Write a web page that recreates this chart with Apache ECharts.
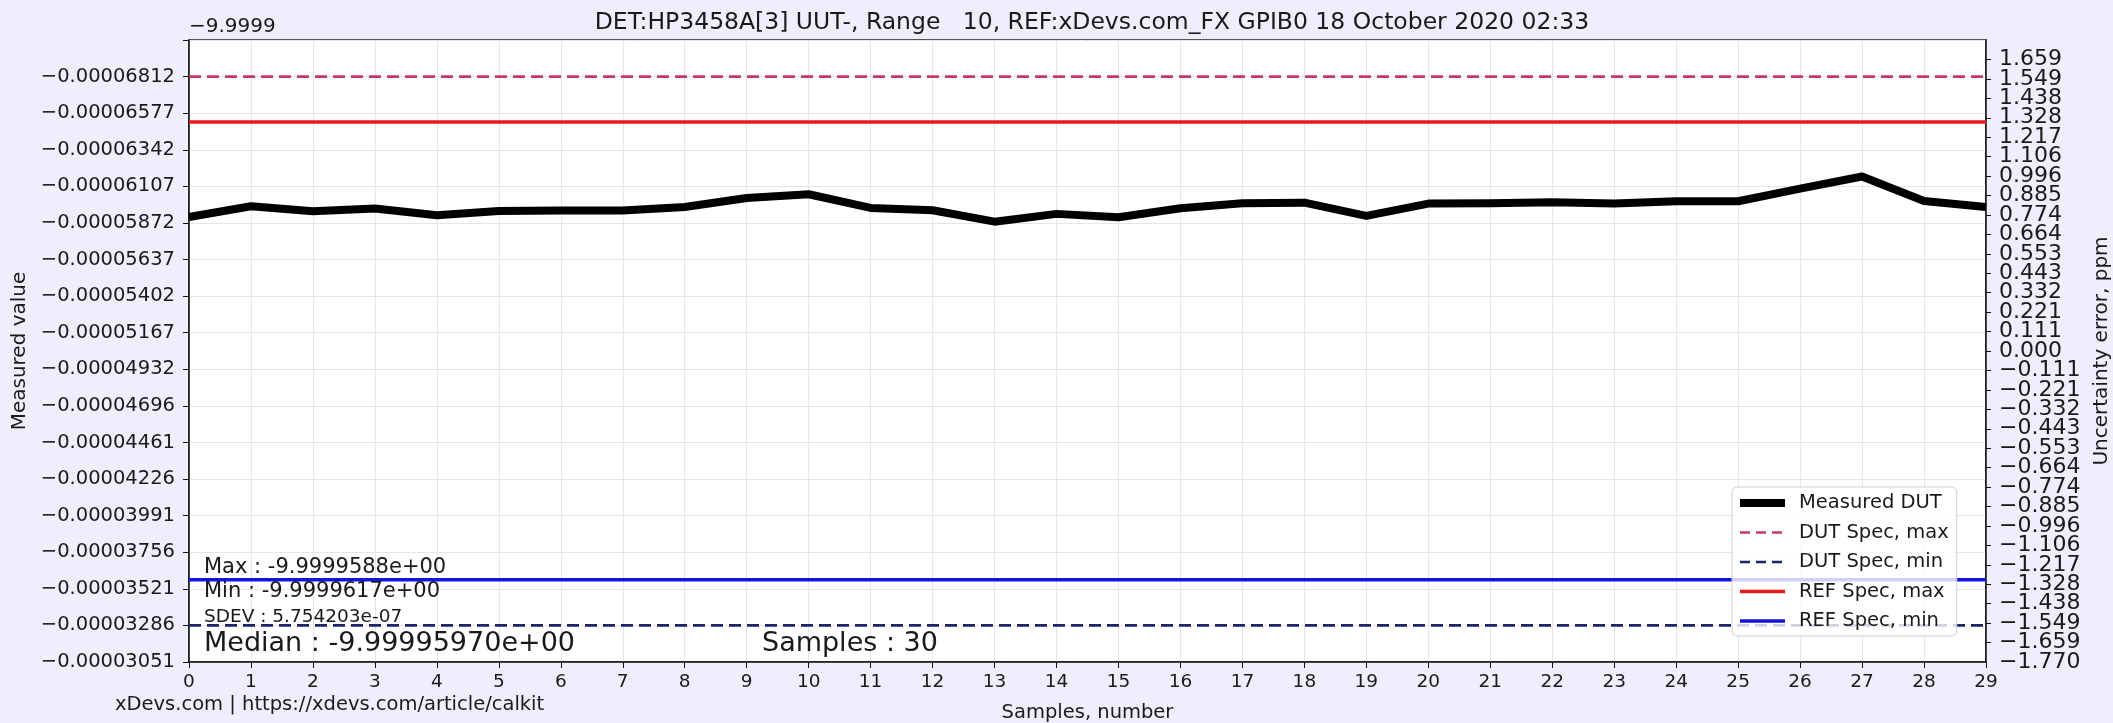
<!DOCTYPE html>
<html>
<head>
<meta charset="utf-8">
<script src="https://cdn.jsdelivr.net/npm/echarts@6/dist/echarts.min.js"></script>
<style>
html,body{margin:0;padding:0;background:#eeeefc;}
#chart{width:2113px;height:723px;}
</style>
</head>
<body>
<div id="chart"></div>
<script>
// ---------------- data ----------------
const titleText = 'DET:HP3458A[3] UUT-, Range   10, REF:xDevs.com_FX GPIB0 18 October 2020 02:33';
const offsetValue = -9.9999;           // matplotlib offset shown above the left axis
const offsetLabel = '\u22129.9999';
const samples = [0,1,2,3,4,5,6,7,8,9,10,11,12,13,14,15,16,17,18,19,20,21,22,23,24,25,26,27,28,29];
const measuredValues = [
  -9.99995910, -9.99995979, -9.99995947, -9.99995964, -9.99995921,
  -9.99995949, -9.99995951, -9.99995951, -9.99995974, -9.99996032,
  -9.99996056, -9.99995968, -9.99995953, -9.99995880, -9.99995930,
  -9.99995908, -9.99995966, -9.99995998, -9.99996002, -9.99995917,
  -9.99995996, -9.99995998, -9.99996004, -9.99995996, -9.99996011,
  -9.99996011, -9.99996092, -9.99996170, -9.99996013, -9.99995974
];
const dutSpecMax = -9.99996812;
const dutSpecMin = -9.99993286;
const refSpecMax = -9.99996520;
const refSpecMin = -9.99993580;
const leftTickLabels = ['\u22120.00006812','\u22120.00006577','\u22120.00006342','\u22120.00006107','\u22120.00005872',
  '\u22120.00005637','\u22120.00005402','\u22120.00005167','\u22120.00004932','\u22120.00004696','\u22120.00004461',
  '\u22120.00004226','\u22120.00003991','\u22120.00003756','\u22120.00003521','\u22120.00003286','\u22120.00003051'];
const rightTickLabels = ['1.659','1.549','1.438','1.328','1.217','1.106','0.996','0.885','0.774','0.664','0.553',
  '0.443','0.332','0.221','0.111','0.000','\u22120.111','\u22120.221','\u22120.332','\u22120.443','\u22120.553',
  '\u22120.664','\u22120.774','\u22120.885','\u22120.996','\u22121.106','\u22121.217','\u22121.328','\u22121.438',
  '\u22121.549','\u22121.659','\u22121.770'];
const statsMax = 'Max : -9.9999588e+00';
const statsMin = 'Min : -9.9999617e+00';
const statsSdev = 'SDEV : 5.754203e-07';
const statsMedian = 'Median : -9.99995970e+00';
const statsSamples = 'Samples : 30';
const footerText = 'xDevs.com | https://xdevs.com/article/calkit';

// ---------------- helpers ----------------
const SCALE = 1e8; // axis works in units of 1e-8 relative to the offset
function rel(v){ return Math.round((v - offsetValue) * SCALE * 100) / 100; }
function parseLabel(s){ return parseFloat(s.replace('\u2212','-')); }
const leftTickVals = leftTickLabels.map(s => parseLabel(s) * SCALE);
const rightTickVals = rightTickLabels.map(parseLabel);
function matchLabel(v, vals, labels, tol){
  for (let i = 0; i < vals.length; i++) if (Math.abs(vals[i] - v) < tol) return labels[i];
  return '';
}
const leftStep = (leftTickVals[leftTickVals.length-1] - leftTickVals[0]) / (leftTickVals.length - 1);
const leftMax = leftTickVals[leftTickVals.length-1];
const leftMin = leftTickVals[0] - leftStep;
const rightStep = 0.11063;
const rightMin = -16 * rightStep, rightMax = 16 * rightStep;

const FONT = 'DejaVu Sans';
const TXT = '#1a1a1a';
const C_DUTMAX = '#c8376a', C_DUTMIN = '#1e2468', C_REFMAX = '#e61a1a', C_REFMIN = '#1414dc';
const hline = v => [[samples[0], rel(v)], [samples[samples.length-1], rel(v)]];
const rightLabelStyle = {fontFamily: FONT, fontSize: 22, color: TXT, margin: 13,
  formatter: v => matchLabel(v, rightTickVals, rightTickLabels, 0.003)};

const chart = echarts.init(document.getElementById('chart'), null, {renderer:'canvas'});
chart.setOption({
  backgroundColor: '#eeeefc',
  animation: false,
  title: {
    text: titleText, left: 1087, top: 6, textAlign: 'center',
    textStyle: {fontFamily: FONT, fontSize: 23.5, fontWeight: 'normal', color: TXT}
  },
  grid: {left: 189, right: 127, top: 40, bottom: 61, show: true, backgroundColor: '#ffffff',
         borderColor: '#222', borderWidth: 1.5, containLabel: false, outerBoundsMode: 'none'},
  legend: {
    orient: 'vertical', left: 1732, top: 487,
    itemWidth: 45, itemHeight: 20, itemGap: 9.5,
    backgroundColor: 'rgba(255,255,255,0.8)', borderColor: '#cfcfcf', borderWidth: 1, borderRadius: 5,
    padding: [6, 8, 5, 4],
    itemStyle: {opacity: 0},
    textStyle: {fontFamily: FONT, fontSize: 19.5, color: TXT, lineHeight: 20, padding: [0,0,0,9]},
    data: [
      {name: 'Measured DUT', lineStyle: {width: 8, color: '#000'}},
      {name: 'DUT Spec, max', lineStyle: {width: 2.6, color: C_DUTMAX, type: [10, 6]}},
      {name: 'DUT Spec, min', lineStyle: {width: 2.6, color: C_DUTMIN, type: [10, 6]}},
      {name: 'REF Spec, max', lineStyle: {width: 3.5, color: C_REFMAX}},
      {name: 'REF Spec, min', lineStyle: {width: 3.5, color: C_REFMIN}}
    ]
  },
  xAxis: {
    type: 'value', min: samples[0], max: samples[samples.length-1], interval: 1,
    name: 'Samples, number', nameLocation: 'middle', nameGap: 41,
    nameTextStyle: {fontFamily: FONT, fontSize: 19.5, color: TXT},
    axisLine: {onZero: false, lineStyle: {color: '#111', width: 1.5}},
    axisTick: {show: true, length: 6, lineStyle: {color: '#111'}},
    axisLabel: {fontFamily: FONT, fontSize: 18.5, color: TXT, margin: 11},
    splitLine: {show: true, lineStyle: {color: '#e6e6e6', width: 1}}
  },
  yAxis: [{
    type: 'value', inverse: true, min: leftMin, max: leftMax, interval: leftStep,
    position: 'left',
    name: 'Measured value', nameLocation: 'middle', nameGap: 158, nameRotate: 90,
    nameTextStyle: {fontFamily: FONT, fontSize: 20, color: TXT},
    axisLine: {show: true, onZero: false, lineStyle: {color: '#111', width: 1.5}},
    axisTick: {show: true, length: 6, lineStyle: {color: '#111'}},
    axisLabel: {fontFamily: FONT, fontSize: 19.5, color: TXT, margin: 14,
      showMinLabel: true, showMaxLabel: true,
      formatter: v => matchLabel(v, leftTickVals, leftTickLabels, 1)},
    splitLine: {show: true, lineStyle: {color: '#e6e6e6', width: 1}}
  }, {
    type: 'value', min: rightMin, max: rightMax, interval: rightStep,
    position: 'right',
    name: 'Uncertainty error, ppm', nameLocation: 'middle', nameGap: 99, nameRotate: 90,
    nameTextStyle: {fontFamily: FONT, fontSize: 20, color: TXT},
    axisLine: {show: true, onZero: false, lineStyle: {color: '#111', width: 1.5}},
    axisTick: {show: true, length: 5, lineStyle: {color: '#111'}},
    axisLabel: Object.assign({showMinLabel: false, showMaxLabel: false}, rightLabelStyle),
    splitLine: {show: false}
  }, {
    // companion axis carrying only the end labels of the ppm scale
    type: 'value', min: rightMin, max: rightMax, interval: rightMax - rightMin,
    position: 'right', offset: 0,
    axisLine: {show: false}, axisTick: {show: false}, splitLine: {show: false},
    axisLabel: Object.assign({showMinLabel: true, showMaxLabel: true}, rightLabelStyle)
  }],
  series: [
    {name: 'Measured DUT', type: 'line', yAxisIndex: 0, symbol: 'none', z: 5,
     data: samples.map((s, i) => [s, rel(measuredValues[i])]),
     lineStyle: {color: '#000', width: 8, join: 'round'}, itemStyle: {color: '#000'}},
    {name: 'DUT Spec, max', type: 'line', yAxisIndex: 0, symbol: 'none', z: 3,
     data: hline(dutSpecMax), lineStyle: {color: C_DUTMAX, width: 2.6, type: [12, 6]}, itemStyle: {color: C_DUTMAX}},
    {name: 'DUT Spec, min', type: 'line', yAxisIndex: 0, symbol: 'none', z: 3,
     data: hline(dutSpecMin), lineStyle: {color: C_DUTMIN, width: 2.6, type: [12, 6]}, itemStyle: {color: C_DUTMIN}},
    {name: 'REF Spec, max', type: 'line', yAxisIndex: 0, symbol: 'none', z: 3,
     data: hline(refSpecMax), lineStyle: {color: C_REFMAX, width: 3.5}, itemStyle: {color: C_REFMAX}},
    {name: 'REF Spec, min', type: 'line', yAxisIndex: 0, symbol: 'none', z: 3,
     data: hline(refSpecMin), lineStyle: {color: C_REFMIN, width: 3.5}, itemStyle: {color: C_REFMIN}}
  ],
  graphic: [
    {type: 'text', x: 189, y: 27, style: {text: offsetLabel, fontFamily: FONT, fontSize: 20, fill: TXT, verticalAlign: 'middle'}},
    {type: 'text', x: 204, y: 567.5, z: 10, style: {text: statsMax, fontFamily: FONT, fontSize: 21, fill: TXT, verticalAlign: 'middle'}},
    {type: 'text', x: 204, y: 592, z: 10, style: {text: statsMin, fontFamily: FONT, fontSize: 21, fill: TXT, verticalAlign: 'middle'}},
    {type: 'text', x: 204, y: 617, z: 10, style: {text: statsSdev, fontFamily: FONT, fontSize: 18.5, fill: TXT, verticalAlign: 'middle'}},
    {type: 'text', x: 204, y: 644, z: 10, style: {text: statsMedian, fontFamily: FONT, fontSize: 27, fill: TXT, verticalAlign: 'middle'}},
    {type: 'text', x: 762, y: 644, z: 10, style: {text: statsSamples, fontFamily: FONT, fontSize: 27, fill: TXT, verticalAlign: 'middle'}},
    {type: 'text', x: 115, y: 705, style: {text: footerText, fontFamily: FONT, fontSize: 19.5, fill: TXT, verticalAlign: 'middle'}}
  ]
});
</script>
</body>
</html>
